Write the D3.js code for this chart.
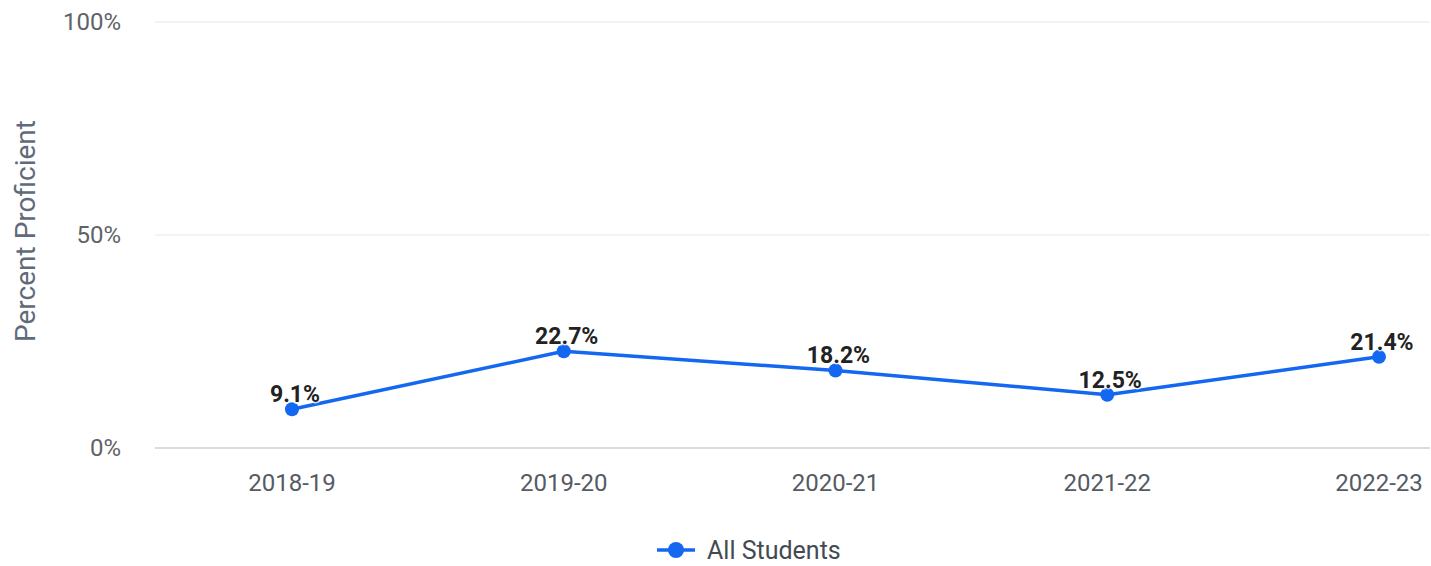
<!DOCTYPE html>
<html>
<head>
<meta charset="utf-8">
<script src="https://cdn.jsdelivr.net/npm/d3@7"></script>
<style>
  html, body { margin: 0; padding: 0; background: #fff; }
  svg { display: block; font-family: Roboto, "Noto Sans", sans-serif; }
</style>
</head>
<body>
<svg id="chart" width="1431" height="566"></svg>
<script>
const categories = ["2018-19", "2019-20", "2020-21", "2021-22", "2022-23"];
const allStudents = [9.1, 22.7, 18.2, 12.5, 21.4];
const yTicks = [0, 50, 100];
const seriesName = "All Students";
const yTitle = "Percent Proficient";

const svg = d3.select("#chart");
const gridLeft = 155, gridRight = 1430;
const yTop = 22, yBottom = 448;
const lineColor = "#1467f0";

const x = d3.scalePoint().domain(categories).range([292, 1379]);
const y = d3.scaleLinear().domain([0, 100]).range([yBottom, yTop]);

// gridlines
svg.append("g").selectAll("line").data(yTicks).join("line")
  .attr("x1", gridLeft).attr("x2", gridRight)
  .attr("y1", d => y(d)).attr("y2", d => y(d))
  .attr("stroke", d => d === 0 ? "#c9d1dc" : "#e3e7ec")
  .attr("stroke-width", d => d === 0 ? 1.5 : 1);

// y tick labels
svg.append("g").selectAll("text").data(yTicks).join("text")
  .attr("x", 121).attr("y", d => y(d))
  .attr("dy", "0.35em")
  .attr("text-anchor", "end")
  .attr("fill", "#5f6368")
  .attr("font-size", 24)
  .text(d => d + "%");

// y title
svg.append("text")
  .attr("transform", `translate(35, 231) rotate(-90)`)
  .attr("text-anchor", "middle")
  .attr("fill", "#5f6b7a")
  .attr("font-size", 28)
  .text(yTitle);

// x tick labels
svg.append("g").selectAll("text").data(categories).join("text")
  .attr("x", d => x(d)).attr("y", 491)
  .attr("text-anchor", "middle")
  .attr("fill", "#555b63")
  .attr("font-size", 24)
  .text(d => d);

const pts = categories.map((c, i) => ({ c, v: allStudents[i] }));

// line
svg.append("path")
  .datum(pts)
  .attr("fill", "none")
  .attr("stroke", lineColor)
  .attr("stroke-width", 3.5)
  .attr("stroke-linejoin", "round")
  .attr("d", d3.line().x(d => x(d.c)).y(d => y(d.v)));

// points
svg.append("g").selectAll("circle").data(pts).join("circle")
  .attr("cx", d => x(d.c)).attr("cy", d => y(d.v))
  .attr("r", 7)
  .attr("fill", lineColor);

// value labels
svg.append("g").selectAll("text").data(pts).join("text")
  .attr("x", d => x(d.c) + 3).attr("y", d => y(d.v) - 7)
  .attr("text-anchor", "middle")
  .attr("fill", "#222")
  .attr("font-size", 23)
  .attr("font-weight", "bold")
  .attr("stroke", "#fff")
  .attr("stroke-width", 3)
  .attr("stroke-opacity", 0.7)
  .attr("paint-order", "stroke")
  .text(d => d.v.toFixed(1) + "%");

// legend
const lg = svg.append("g").attr("transform", "translate(0, 550)");
lg.append("line").attr("x1", 657).attr("x2", 695).attr("y1", 0).attr("y2", 0)
  .attr("stroke", lineColor).attr("stroke-width", 3.5);
lg.append("circle").attr("cx", 676).attr("cy", 0).attr("r", 8).attr("fill", lineColor);
lg.append("text").attr("x", 707).attr("y", 0).attr("dy", "0.35em")
  .attr("fill", "#444a52").attr("font-size", 25).text(seriesName);
</script>
</body>
</html>
